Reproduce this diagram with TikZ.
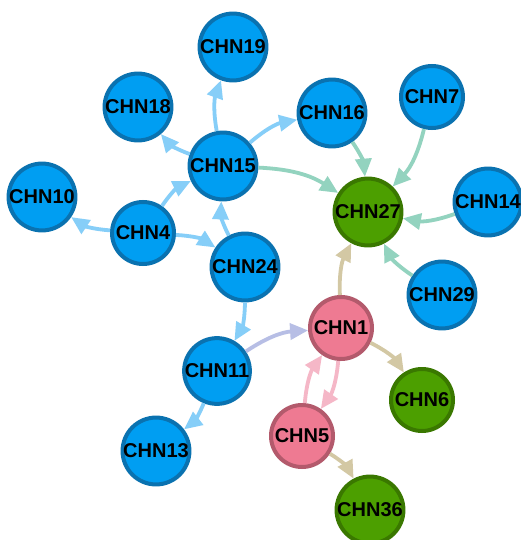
\documentclass[tikz,border=0pt]{standalone}
\usepackage{fontspec}
\setmainfont{Liberation Sans}
\usetikzlibrary{arrows.meta}
\definecolor{nblue}{HTML}{009EF2}
\definecolor{nblueb}{HTML}{0A72B0}
\definecolor{ngreen}{HTML}{4C9F00}
\definecolor{ngreenb}{HTML}{3A7800}
\definecolor{npink}{HTML}{EE7A92}
\definecolor{npinkb}{HTML}{B35A6C}
\definecolor{eblue}{HTML}{86CEF8}
\definecolor{eteal}{HTML}{93D3BF}
\definecolor{etan}{HTML}{D3C8A4}
\definecolor{epink}{HTML}{F5B7C7}
\definecolor{elav}{HTML}{B7BEE5}
\begin{document}
\begin{tikzpicture}[x=1pt,y=-1pt,
  nd/.style={circle, minimum size=62pt, inner sep=0pt, line width=4pt,
    font=\fontsize{20}{20}\selectfont\bfseries, text=black},
  bn/.style={nd, fill=nblue, draw=nblueb},
  gn/.style={nd, fill=ngreen, draw=ngreenb},
  pn/.style={nd, fill=npink, draw=npinkb},
  ed/.style={line width=3.8pt, -{Triangle[length=18pt,width=16pt]}, bend left=15},
]
\useasboundingbox (0,0) rectangle (520,540);
\fill[white] (0,0) rectangle (520,540);

\node[bn] (n19) at (233,47) {CHN19};
\node[bn] (n18) at (138,107) {CHN18};
\node[bn] (n16) at (332,113) {CHN16};
\node[bn] (n7) at (432,97) {CHN7};
\node[bn] (n15) at (223,166) {CHN15};
\node[bn] (n10) at (42,197) {CHN10};
\node[bn] (n4) at (143,233) {CHN4};
\node[gn] (n27) at (368,212) {CHN27};
\node[bn] (n14) at (488,202) {CHN14};
\node[bn] (n24) at (245,267) {CHN24};
\node[bn] (n29) at (442,295) {CHN29};
\node[pn] (n1) at (341,328) {CHN1};
\node[bn] (n11) at (217,371) {CHN11};
\node[gn] (n6) at (422,400) {CHN6};
\node[pn] (n5) at (302,436) {CHN5};
\node[bn] (n13) at (156,451) {CHN13};
\node[gn] (n36) at (370,510) {CHN36};

\draw[ed, eblue] (n15) to (n19);
\draw[ed, eblue] (n15) to (n18);
\draw[ed, eblue] (n15) to (n16);
\draw[ed, eteal] (n15) to (n27);
\draw[ed, eblue] (n4) to (n15);
\draw[ed, eblue] (n4) to (n10);
\draw[ed, eblue] (n4) to (n24);
\draw[ed, eblue] (n24) to (n15);
\draw[ed, eblue] (n24) to (n11);
\draw[ed, eblue] (n11) to (n13);
\draw[ed, elav] (n11) to (n1);
\draw[ed, eteal] (n16) to (n27);
\draw[ed, eteal] (n7) to (n27);
\draw[ed, eteal] (n14) to (n27);
\draw[ed, eteal] (n29) to (n27);
\draw[ed, etan] (n1) to (n27);
\draw[ed, etan] (n1) to (n6);
\draw[ed, epink] (n1) to (n5);
\draw[ed, epink] (n5) to (n1);
\draw[ed, etan] (n5) to (n36);
\end{tikzpicture}
\end{document}
